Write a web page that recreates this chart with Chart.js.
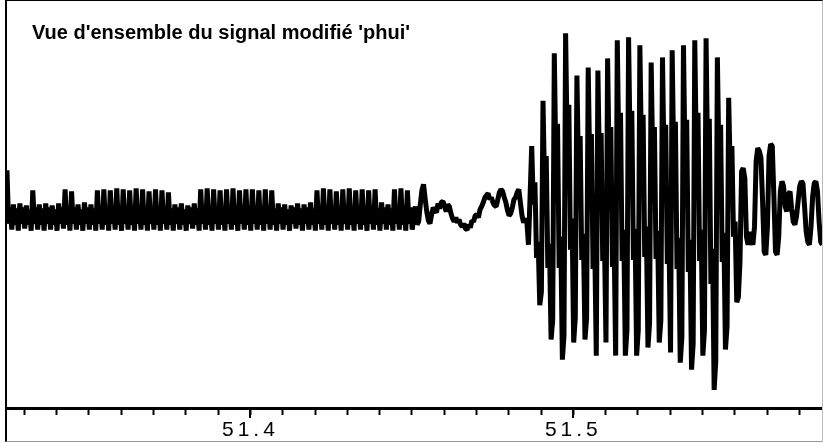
<!DOCTYPE html>
<html lang="fr">
<head>
<meta charset="utf-8">
<title>Vue d'ensemble du signal modifié 'phui'</title>
<script src="https://cdn.jsdelivr.net/npm/chart.js@4.4.1/dist/chart.umd.min.js"></script>
<style>
  html, body { margin: 0; padding: 0; background: #fff; }
  body { width: 823px; height: 443px; position: relative; overflow: hidden; }
  #frame {
    position: absolute; left: 5px; top: 0; width: 818px; height: 442px;
    box-sizing: border-box;
    border-left: 2px solid #000; border-top: 1px solid #000;
    border-bottom: 1px solid #999; border-right: 1px solid #bbb;
  }
  #chartBox { position: absolute; left: 6px; top: 3px; width: 816px; height: 437px; }
  #title {
    position: absolute; left: 32px; top: 22px;
    font: bold 20px "Liberation Sans", Arial, sans-serif; line-height: 1;
    color: #000; white-space: nowrap;
  }
</style>
</head>
<body>
<div id="frame"></div>
<div id="chartBox"><canvas id="signalChart" width="816" height="437"></canvas></div>
<div id="title">Vue d'ensemble du signal modifié 'phui'</div>

<script>
// time axis (seconds)
const startTime = 51.3246;
const sampleStep = 0.0005;
const xMin = 51.3243;
const xMax = 51.5770;
const tickStep = 0.01;
const labelledTicks = [51.4, 51.5];

// amplitude range shown
const yMin = -190;
const yMax = 212;

// signal samples, segment by segment
const denseValues = [
  46, -7, 9, -13,   12, -8, 8, -14,   13, -7, 9, -12,   11, -8, 7, -14,
  26, -7, 9, -13,   12, -8, 8, -14,   13, -7, 9, -13,   11, -8, 7, -14,
  13, -7, 9, -12,   27, -8, 8, -14,   25, -7, 9, -13,   12, -8, 7, -14,
  14, -7, 9, -13,   12, -8, 8, -14,   26, -7, 9, -13,   27, -8, 8, -14,
  26, -7, 9, -13,   28, -8, 7, -14,   27, -7, 9, -13,   26, -8, 8, -14,
  28, -7, 9, -13,   27, -8, 8, -14,   25, -7, 9, -13,   27, -8, 8, -14,
  26, -7, 9, -13,   24, -8, 8, -14,   12, -7, 9, -13,   13, -8, 7, -14,
  11, -7, 9, -12,   13, -8, 8, -14,   27, -7, 9, -13,   28, -8, 8, -14,
  27, -7, 9, -13,   26, -8, 8, -14,   27, -7, 9, -13,   28, -8, 7, -14,
  26, -7, 9, -13,   27, -8, 8, -14,   27, -7, 9, -13,   26, -8, 8, -14,
  27, -7, 9, -13,   26, -8, 8, -14,   13, -7, 9, -13,   12, -8, 7, -14,
  11, -7, 9, -12,   13, -8, 8, -14,   12, -7, 9, -13,   14, -8, 8, -14,
  26, -7, 9, -13,   28, -8, 8, -14,   27, -7, 9, -13,   25, -8, 8, -14,
  27, -7, 9, -13,   28, -8, 8, -14,   26, -7, 9, -13,   27, -8, 7, -14,
  26, -7, 9, -13,   27, -8, 8, -14,   14, -7, 9, -13,   12, -8, 8, -14,
  27, -7, 9, -13,   28, -8, 8, -14,   26, -7, 9, -13
];

const transitionValues = [
  0, 10, -8, -5, 12, 26, 32, 18, 5, -4,
  -7, 2, 9, 6, 4, 13, 8, 14, 15, 11,
  5, 12, 10, 3, -2, -5, -1, -6, -3, -8,
  -10, -7, -12, -13, -8, -11, -4, -5, 1, 2,
  -1, 7, 10, 14, 19, 21, 23, 17, 19, 14,
  11, 10, 17, 24, 27, 25, 19, 14, 6, 1,
  3, 9, 17, 19, 24, 27, 14, 1, -6, -2
];

const burstValues = [
  -5, -28, 20,
  70, 12, 34, -41, -25, -88, -75,
  115, 27, 60, -51, -27, -122, -103,
  162, 50, 92, -51, -20, -142, -118,
  182, 68, 111, -33, -2, -125, -100,
  140, 43, 80, -43, -17, -122, -101,
  148, 42, 82, -52, -24, -138,
  145, 45, 83, -44, -17, -125,
  157, 48, 89, -50, -20, -138,
  175, 59, 103, -44, -13, -138, -113,
  178, 61, 105, -43, -12, -138, -113,
  170, 59, 101, -40, -10, -130, -106,
  153, 50, 89, -42, -14, -125, -103,
  158, 50, 91, -47, -18, -135,
  165, 50, 94, -52, -21, -145, -120,
  170, 51, 96, -55, -23, -152, -126,
  175, 59, 103, -44, -13, -138, -113,
  177, 48, 97, -67, -32, -172, -144,
  158, 51, 91, -45, -16, -132, -109,
  118, 40, 70, -20, -5
];

const tailValues = [
  -85, -80, -45, 45, 48, 38, -20, -28, -15, -22,
  -28, -10, 55, 68, 65, 58, 15, -35, -38, -10,
  60, 72, 70, 20, -35, -38, -20, 25, 35, 30,
  10, 5, 22, 25, 8, -5, -8, 0, 15, 30,
  35, 33, 10, -15, -25, -28, -10, 20, 33, 35,
  25, -5, -25, -28
];

const samples = denseValues.concat(transitionValues, burstValues, tailValues);
const points = samples.map((v, i) => ({ x: startTime + i * sampleStep, y: v }));

function isLabelled(v) {
  return labelledTicks.some((t) => Math.abs(v - t) < 1e-6);
}

// longer ticks under the labelled values + spaced tick digits
const axisLook = {
  id: "axisLook",
  beforeDraw(chart) {
    chart.ctx.letterSpacing = "4px";
  },
  afterDraw(chart) {
    const ctx = chart.ctx;
    const xs = chart.scales.x;
    ctx.save();
    ctx.letterSpacing = "0px";
    ctx.fillStyle = "#000";
    labelledTicks.forEach((v) => {
      const px = xs.getPixelForValue(v);
      ctx.fillRect(Math.round(px) - 1, xs.top, 2, 10);
    });
    ctx.restore();
  },
};

const ctx = document.getElementById("signalChart").getContext("2d");
new Chart(ctx, {
  type: "line",
  data: {
    datasets: [
      {
        data: points,
        borderColor: "#000",
        borderWidth: 5,
        borderJoinStyle: "bevel",
        pointRadius: 0,
        tension: 0,
        fill: false,
      },
    ],
  },
  options: {
    responsive: false,
    animation: false,
    events: [],
    layout: { padding: 0 },
    plugins: {
      legend: { display: false },
      tooltip: { enabled: false },
      title: { display: false },
    },
    scales: {
      x: {
        type: "linear",
        min: xMin,
        max: xMax,
        afterFit(scale) {
          scale.height = 32;
        },
        border: { display: true, color: "#000", width: 3 },
        grid: {
          drawOnChartArea: false,
          drawTicks: true,
          tickLength: 7,
          tickWidth: 2,
          tickColor: "#000",
        },
        ticks: {
          stepSize: tickStep,
          includeBounds: false,
          autoSkip: false,
          maxRotation: 0,
          minRotation: 0,
          padding: 3,
          color: "#000",
          font: { family: "Liberation Sans", size: 21 },
          callback: (v) => (isLabelled(v) ? Number(v).toFixed(1) : ""),
        },
      },
      y: {
        display: false,
        min: yMin,
        max: yMax,
      },
    },
  },
  plugins: [axisLook],
});
</script>
</body>
</html>
